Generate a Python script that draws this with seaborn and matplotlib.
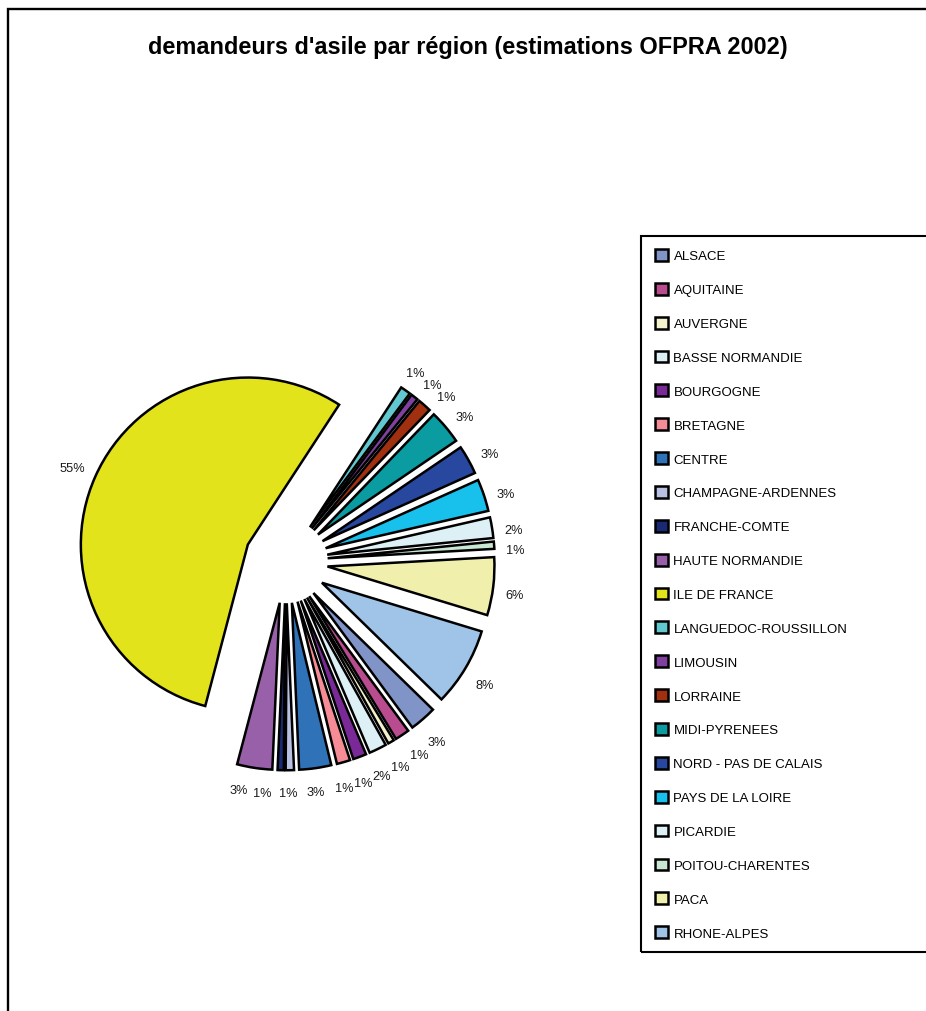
import matplotlib
matplotlib.use("Agg")
import matplotlib.pyplot as plt
import numpy as np
import seaborn as sns
from matplotlib.patches import Rectangle

# Asylum seekers by region, share of the national total (%)
regions = [
    "ALSACE", "AQUITAINE", "AUVERGNE", "BASSE NORMANDIE", "BOURGOGNE",
    "BRETAGNE", "CENTRE", "CHAMPAGNE-ARDENNES", "FRANCHE-COMTE",
    "HAUTE NORMANDIE", "ILE DE FRANCE", "LANGUEDOC-ROUSSILLON", "LIMOUSIN",
    "LORRAINE", "MIDI-PYRENEES", "NORD - PAS DE CALAIS", "PAYS DE LA LOIRE",
    "PICARDIE", "POITOU-CHARENTES", "PACA", "RHONE-ALPES",
]
shares = [
    2.6, 1.4, 0.6, 1.7, 1.3,
    1.3, 3.1, 0.8, 0.6,
    3.4, 55.1, 1.0, 0.7,
    1.3, 3.3, 2.8, 3.1,
    2.0, 0.7, 5.6, 7.6,
]
colors = [
    "#8094C8", "#B84C8F", "#F3F2CC", "#DCF0F6", "#7A2A96",
    "#F58C96", "#3072B8", "#B8C0E4", "#1A2A72",
    "#9860A8", "#E2E31A", "#62C8D0", "#8040A0",
    "#A03010", "#0A9CA0", "#2848A0", "#18C0EC",
    "#DCF0F6", "#C8E8D4", "#F0F0AC", "#A0C4E8",
]
title = "demandeurs d'asile par région (estimations OFPRA 2002)"

sns.set_theme(style="white")
plt.rcParams["font.family"] = ["Liberation Sans", "DejaVu Sans"]

W, H = 926, 1012
fig = plt.figure(figsize=(W / 100, H / 100), dpi=100)
fig.patch.set_facecolor("white")


def fx(px):
    return px / W


def fy(py):
    return 1 - py / H


# pie geometry in pixels: radius and centre of the un-exploded pie
R_PX = 167.0
CX, CY = 286.0, 562.5
EXPLODE = 0.25
PCT_SIZE = 9.2

ax = fig.add_axes([0, 0, 1, 1])
wedges, _, pct_texts = ax.pie(
    shares,
    colors=colors,
    explode=[EXPLODE] * len(shares),
    startangle=-44.3,
    counterclock=False,
    radius=1.0,
    autopct="%.0f%%",
    pctdistance=1.15,
    wedgeprops=dict(edgecolor="black", linewidth=1.8, joinstyle="miter"),
    textprops=dict(fontsize=PCT_SIZE, color="#1a1a1a"),
)
ax.set_aspect("auto")
ax.set_xlim(-CX / R_PX, (W - CX) / R_PX)
ax.set_ylim(-(H - CY) / R_PX, CY / R_PX)
ax.axis("off")

# percentage labels: just outside each wedge; crowded labels are slid round the pie
fig.canvas.draw()
renderer = fig.canvas.get_renderer()
sizes = []
for t in pct_texts:
    bb = t.get_window_extent(renderer)
    sizes.append((bb.width, bb.height))
sizes = np.array(sizes)
angles = np.array([np.deg2rad((w.theta1 + w.theta2) / 2 - 0.5) for w in wedges])
DROP = 4.0 / R_PX  # text boxes sit slightly below their anchor point
FS_PX = PCT_SIZE * 100 / 72


def label_xy(a, size):
    ux, uy = np.cos(a), np.sin(a)
    hw, hh = size[0] / 2 / R_PX, size[1] * 0.6 / R_PX
    dist = EXPLODE + 1.07 + hw * abs(ux) + hh * abs(uy)
    return np.array([dist * ux, dist * uy - DROP])


def crowded(p, q, s, u):
    rx = (s[0] + u[0]) / 2 + 0.55 * FS_PX
    ry = 0.7 * FS_PX
    return ((p[0] - q[0]) / rx) ** 2 + ((p[1] - q[1]) / ry) ** 2 < 1


def overlapping(p, q, s, u):
    return (abs(p[0] - q[0]) < (s[0] + u[0]) / 2
            and abs(p[1] - q[1]) < (s[1] + u[1]) / 2)


step = np.deg2rad(0.1)
n = len(angles)
# pass 1: a crowded label gives way clockwise
for _ in range(600):
    moved = False
    for i in range(n - 1):
        j = i + 1
        p = label_xy(angles[i], sizes[i]) * R_PX
        q = label_xy(angles[j], sizes[j]) * R_PX
        if crowded(p, q, sizes[i], sizes[j]):
            angles[j] -= step
            moved = True
    if not moved:
        break
# pass 2: any remaining overlap is split evenly between neighbours
for _ in range(600):
    moved = False
    for i in range(n - 1):
        j = i + 1
        p = label_xy(angles[i], sizes[i]) * R_PX
        q = label_xy(angles[j], sizes[j]) * R_PX
        if overlapping(p, q, sizes[i], sizes[j]):
            angles[i] += step / 2
            angles[j] -= step / 2
            moved = True
    if not moved:
        break

for t, a, s in zip(pct_texts, angles, sizes):
    t.set_position(tuple(label_xy(a, s)))
    t.set_ha("center")
    t.set_va("center")

# legend
leg = ax.legend(
    wedges, regions,
    loc="upper left",
    bbox_to_anchor=(fx(655), fy(250)),
    bbox_transform=fig.transFigure,
    frameon=False,
    fontsize=9.5,
    handlelength=1.0,
    handleheight=1.0,
    handletextpad=0.4,
    labelspacing=1.549,
    borderpad=0,
    borderaxespad=0,
)
for txt in leg.get_texts():
    txt.set_color("black")

fig.text(fx(467.5), fy(48), title, ha="center", va="center",
         fontsize=16.9, fontweight="bold", color="black")

# chart-area border and legend box
fig.add_artist(Rectangle((fx(8), -0.5), 2, fy(10) + 0.5, transform=fig.transFigure,
                         fill=False, edgecolor="black", linewidth=1.7))
fig.add_artist(Rectangle((fx(641), fy(953)), 1, (953 - 237) / H, transform=fig.transFigure,
                         fill=False, edgecolor="black", linewidth=1.5))

fig.savefig("out.png", dpi=100, facecolor="white")
